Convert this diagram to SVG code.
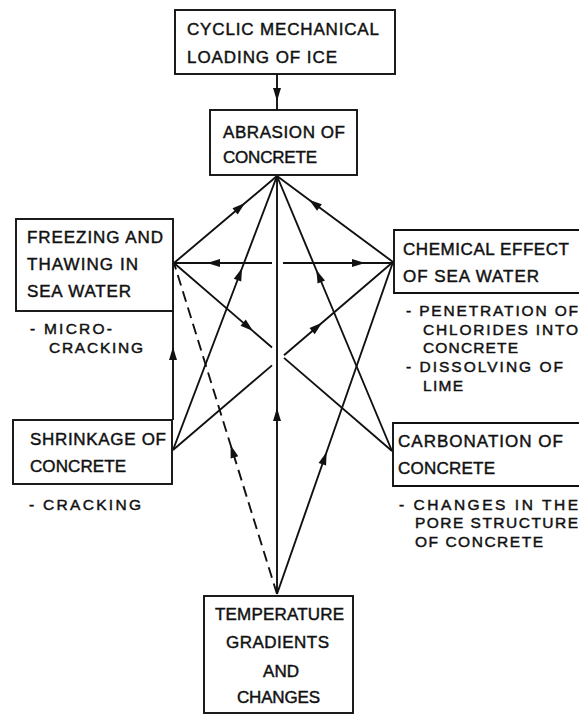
<svg xmlns="http://www.w3.org/2000/svg" width="579" height="715" viewBox="0 0 579 715">
<style>
.box{fill:none;stroke:#111;stroke-width:1.9}
.t{font-family:"Liberation Sans",Arial,sans-serif;font-size:17px;fill:#111;stroke:#111;stroke-width:0.45}
.s{font-size:15.5px}
.c{fill:none;stroke:#111;stroke-width:1.9}
.d{stroke-dasharray:11 6}
</style>
<defs>
<marker id="ah" markerUnits="userSpaceOnUse" markerWidth="14" markerHeight="9" refX="13" refY="4" orient="auto" overflow="visible">
<path d="M0,0 L13,4 L0,8 z" fill="#111" stroke="none"/>
</marker>
</defs>
<rect width="579" height="715" fill="#fff"/>

<g id="connectors">
<path class="c" d="M277,74 L277,101 L277,110" marker-mid="url(#ah)"/>
<path class="c" d="M174,263 L245,203 L277,176" marker-mid="url(#ah)"/>
<path class="c" d="M393,262 L309,199.7 L277,176" marker-mid="url(#ah)"/>
<path class="c" d="M272,263 L207,263 L174,263" marker-mid="url(#ah)"/>
<path class="c" d="M283,263 L365,263 L393,263" marker-mid="url(#ah)"/>
<path class="c" d="M277,594 L277,408 L277,176" marker-mid="url(#ah)"/>
<path class="c" d="M173,450 L242.1,268 L277,176" marker-mid="url(#ah)"/>
<path class="c" d="M173,450 L272,365.4"/>
<path class="c" d="M284,355.2 L322,322.7 L393,262" marker-mid="url(#ah)"/>
<path class="c" d="M174,263 L253,331.1 L272,347.5" marker-mid="url(#ah)"/>
<path class="c" d="M284,357.9 L392,451"/>
<path class="c" d="M392,451 L316.3,270 L277,176" marker-mid="url(#ah)"/>
<path class="c" d="M277,594 L326.6,452 L393,262" marker-mid="url(#ah)"/>
<path class="c d" d="M277,594 L230.6,445 L174,263" marker-mid="url(#ah)"/>
<path class="c" d="M173,420 L173,347 L173,311" marker-mid="url(#ah)"/>
</g>

<g id="cyclic">
<rect class="box" x="175" y="10" width="220" height="64"/>
<text class="t" x="187" y="35" textLength="192" lengthAdjust="spacing">CYCLIC MECHANICAL</text>
<text class="t" x="187" y="63" textLength="150" lengthAdjust="spacing">LOADING OF ICE</text>
</g>

<g id="abrasion">
<rect class="box" x="210" y="110" width="147" height="65"/>
<text class="t" x="223" y="138" textLength="122" lengthAdjust="spacing">ABRASION OF</text>
<text class="t" x="223" y="163" textLength="94" lengthAdjust="spacing">CONCRETE</text>
</g>

<g id="freezing">
<rect class="box" x="16" y="219" width="157" height="92"/>
<text class="t" x="27" y="243" textLength="136" lengthAdjust="spacing">FREEZING AND</text>
<text class="t" x="27" y="270" textLength="111" lengthAdjust="spacing">THAWING IN</text>
<text class="t" x="27" y="297" textLength="104" lengthAdjust="spacing">SEA WATER</text>
<text class="t s" x="30" y="334" textLength="82" lengthAdjust="spacing">- MICRO-</text>
<text class="t s" x="49" y="353" textLength="94" lengthAdjust="spacing">CRACKING</text>
</g>

<g id="chemical">
<path class="box" d="M579,230 H394 V293 H579"/>
<text class="t" x="403" y="255" textLength="166" lengthAdjust="spacing">CHEMICAL EFFECT</text>
<text class="t" x="403" y="282" textLength="136" lengthAdjust="spacing">OF SEA WATER</text>
<text class="t s" x="406" y="316" textLength="172" lengthAdjust="spacing">- PENETRATION OF</text>
<text class="t s" x="423" y="335" textLength="155" lengthAdjust="spacing">CHLORIDES INTO</text>
<text class="t s" x="423" y="353" textLength="95" lengthAdjust="spacing">CONCRETE</text>
<text class="t s" x="406" y="372" textLength="157" lengthAdjust="spacing">- DISSOLVING OF</text>
<text class="t s" x="423" y="391" textLength="40" lengthAdjust="spacing">LIME</text>
</g>

<g id="shrinkage">
<rect class="box" x="13" y="420" width="159" height="64"/>
<text class="t" x="30" y="445" textLength="136" lengthAdjust="spacing">SHRINKAGE OF</text>
<text class="t" x="30" y="472" textLength="96" lengthAdjust="spacing">CONCRETE</text>
<text class="t s" x="29" y="510" textLength="112" lengthAdjust="spacing">- CRACKING</text>
</g>

<g id="carbonation">
<path class="box" d="M579,423 H393 V486 H579"/>
<text class="t" x="398" y="447" textLength="165" lengthAdjust="spacing">CARBONATION OF</text>
<text class="t" x="398" y="474" textLength="97" lengthAdjust="spacing">CONCRETE</text>
<text class="t s" x="399" y="510" textLength="179" lengthAdjust="spacing">- CHANGES IN THE</text>
<text class="t s" x="415" y="528" textLength="163" lengthAdjust="spacing">PORE STRUCTURE</text>
<text class="t s" x="415" y="547" textLength="128" lengthAdjust="spacing">OF CONCRETE</text>
</g>

<g id="temperature">
<rect class="box" x="204" y="596" width="149" height="117"/>
<text class="t" x="215" y="620" textLength="129" lengthAdjust="spacing">TEMPERATURE</text>
<text class="t" x="226" y="648" textLength="103" lengthAdjust="spacing">GRADIENTS</text>
<text class="t" x="263" y="677" textLength="36" lengthAdjust="spacing">AND</text>
<text class="t" x="237" y="703" textLength="83" lengthAdjust="spacing">CHANGES</text>
</g>
</svg>
